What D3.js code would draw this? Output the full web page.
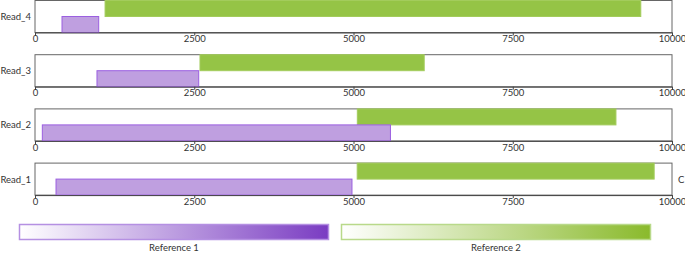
<!DOCTYPE html>
<html>
<head>
<meta charset="utf-8">
<script src="https://cdn.jsdelivr.net/npm/d3@7"></script>
<style>
  body { margin: 0; background: #fff; }
  text { font-family: Lato, "Open Sans", sans-serif; fill: #333; }
</style>
</head>
<body>
<div id="container"></div>
<script>
const width = 685,
  height = 253,
  margin = { left: 35, right: 13 },
  panelH = 32,
  panelStep = 54.2;

// data
const reads = ["Read_4", "Read_3", "Read_2", "Read_1"];
const ref1Start = [424, 973, 115, 330];
const ref1End = [1000, 2570, 5580, 4976];
const ref2Start = [1100, 2590, 5060, 5058];
const ref2End = [9510, 6110, 9120, 9720];
const tickValues = [0, 2500, 5000, 7500, 10000];
const legendLabels = ["Reference 1", "Reference 2"];

const purple = "#bf9fe0", purpleStroke = "#9b5fe0";
const green = "#95c446", greenStroke = "#a3cc5c";

const svg = d3.select("#container")
  .append("svg")
  .attr("width", width)
  .attr("height", height);

const xScale = d3.scaleLinear()
  .domain([0, 10000])
  .range([margin.left, width - margin.right]);

const xAxis = d3.axisBottom(xScale)
  .tickValues(tickValues)
  .tickSize(3)
  .tickPadding(0)
  .tickFormat(d3.format("d"));

reads.forEach((name, i) => {
  const top = 0.5 + i * panelStep;
  const g = svg.append("g").attr("transform", `translate(0, ${top})`);

  // box
  g.append("rect")
    .attr("x", xScale(0))
    .attr("y", 0)
    .attr("width", xScale(10000) - xScale(0))
    .attr("height", panelH)
    .attr("fill", "none")
    .attr("stroke", "#666")
    .attr("stroke-width", 1);

  // reference 2 (green, top half)
  g.append("rect")
    .attr("x", xScale(ref2Start[i]))
    .attr("y", 0)
    .attr("width", xScale(ref2End[i]) - xScale(ref2Start[i]))
    .attr("height", panelH / 2)
    .attr("fill", green)
    .attr("stroke", greenStroke);

  // reference 1 (purple, bottom half)
  g.append("rect")
    .attr("x", xScale(ref1Start[i]))
    .attr("y", panelH / 2)
    .attr("width", xScale(ref1End[i]) - xScale(ref1Start[i]))
    .attr("height", panelH / 2)
    .attr("fill", purple)
    .attr("stroke", purpleStroke);

  // axis
  const ax = g.append("g")
    .attr("transform", `translate(0, ${panelH})`)
    .call(xAxis);
  ax.select(".domain").attr("stroke", "#444");
  ax.selectAll(".tick line").attr("stroke", "#444");
  ax.selectAll(".tick text")
    .attr("fill", "#333")
    .style("font-family", "Lato, sans-serif")
    .style("font-size", "9.5px");

  g.append("text")
    .attr("x", 31)
    .attr("y", panelH / 2)
    .attr("text-anchor", "end")
    .attr("dominant-baseline", "central")
    .style("font-size", "9.5px")
    .text(name);
});

// stray label at the right of the last panel
svg.append("text")
  .attr("x", 678)
  .attr("y", 179)
  .attr("dominant-baseline", "central")
  .style("font-size", "9.5px")
  .text("C");

// legend
const defs = svg.append("defs");
const legends = [
  { id: "gradPurple", color: "#7a3cc2", stroke: "#b590e2", x0: 19, x1: 329 },
  { id: "gradGreen", color: "#8aba2c", stroke: "#b9d98a", x0: 341, x1: 651 }
];
legends.forEach((l, i) => {
  const grad = defs.append("linearGradient").attr("id", l.id);
  grad.append("stop").attr("offset", "0%").attr("stop-color", "#fff");
  grad.append("stop").attr("offset", "100%").attr("stop-color", l.color);

  svg.append("rect")
    .attr("x", l.x0 + 0.5)
    .attr("y", 224.5)
    .attr("width", l.x1 - l.x0 - 1)
    .attr("height", 15)
    .attr("fill", `url(#${l.id})`)
    .attr("stroke", l.stroke)
    .attr("stroke-width", 1.5);

  svg.append("text")
    .attr("x", (l.x0 + l.x1) / 2)
    .attr("y", 251)
    .attr("text-anchor", "middle")
    .style("font-size", "9.5px")
    .text(legendLabels[i]);
});
</script>
</body>
</html>
